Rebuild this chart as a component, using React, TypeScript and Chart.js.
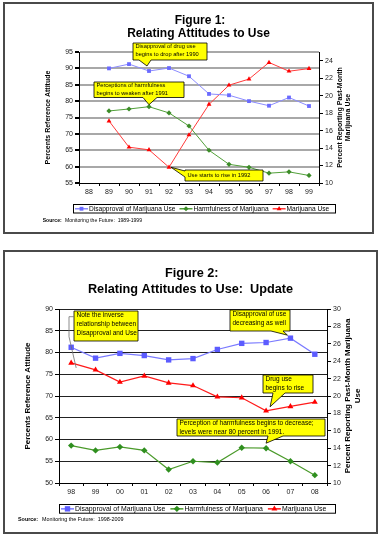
import React, { useEffect, useRef } from 'react';
import { Chart, registerables } from 'chart.js';

Chart.register(...registerables);

const FONT = 'Arial, "Liberation Sans", Helvetica, sans-serif';
Chart.defaults.font.family = FONT;

const seriesNames = ['Disapproval of Marijuana Use', 'Harmfulness of Marijuana', 'Marijuana Use'];

// ---------- Figure 1 data ----------
const fig1Years = ['88', '89', '90', '91', '92', '93', '94', '95', '96', '97', '98', '99'];
const fig1Disapproval = [null, 90.0, 91.3, 89.2, 90.1, 87.6, 82.2, 81.8, 80.0, 78.6, 81.1, 78.5];
const fig1Harmfulness = [null, 77.0, 77.6, 78.3, 76.4, 72.4, 65.0, 60.7, 59.8, 58.0, 58.4, 57.3];
const fig1Use = [null, 17.1, 14.1, 13.8, 11.8, 15.5, 19.0, 21.2, 21.9, 23.8, 22.8, 23.1];
const fig1LeftTicks = [55, 60, 65, 70, 75, 80, 85, 90, 95];
const fig1RightTicks = [10, 12, 14, 16, 18, 20, 22, 24];
const fig1RightMax = 25;

// ---------- Figure 2 data ----------
const fig2Years = ['98', '99', '00', '01', '02', '03', '04', '05', '06', '07', '08'];
const fig2Disapproval = [81.2, 78.7, 79.8, 79.3, 78.3, 78.6, 80.7, 82.1, 82.3, 83.3, 79.6];
const fig2Harmfulness = [58.6, 57.5, 58.3, 57.5, 53.1, 55.0, 54.7, 58.1, 58.0, 55.0, 51.8];
const fig2Use = [23.8, 23.0, 21.6, 22.3, 21.5, 21.2, 19.9, 19.8, 18.3, 18.8, 19.3];
const fig2LeftTicks = [50, 55, 60, 65, 70, 75, 80, 85, 90];
const fig2RightTicks = [10, 12, 14, 16, 18, 20, 22, 24, 26, 28, 30];
const fig2RightMax = 30;

type Style = { color: string; line: string; style: string; r: number; w: number };

const fig1Styles: Style[] = [
  { color: '#6a6aff', line: '#8c8cff', style: 'rect', r: 2.7, w: 1 },
  { color: '#3c8c28', line: '#52a03a', style: 'rectRot', r: 2.6, w: 1 },
  { color: '#ff0000', line: '#ff3b3b', style: 'triangle', r: 2.8, w: 1 },
];
const fig2Styles: Style[] = [
  { color: '#5c5cff', line: '#7a7aff', style: 'rect', r: 3.8, w: 1.2 },
  { color: '#2f8f1f', line: '#4a9a2a', style: 'rectRot', r: 3.2, w: 1.2 },
  { color: '#ff0000', line: '#ff1a1a', style: 'triangle', r: 3.4, w: 1.2 },
];

function drawMarker(ctx: CanvasRenderingContext2D, st: Style, x: number, y: number) {
  const r = st.r;
  ctx.fillStyle = st.color;
  ctx.beginPath();
  if (st.style === 'rect') {
    const s = r * Math.SQRT1_2;
    ctx.rect(x - s, y - s, 2 * s, 2 * s);
  } else if (st.style === 'rectRot') {
    ctx.moveTo(x, y - r);
    ctx.lineTo(x + r, y);
    ctx.lineTo(x, y + r);
    ctx.lineTo(x - r, y);
    ctx.closePath();
  } else {
    ctx.moveTo(x, y - r);
    ctx.lineTo(x + r * 0.866, y + r * 0.5);
    ctx.lineTo(x - r * 0.866, y + r * 0.5);
    ctx.closePath();
  }
  ctx.fill();
}

type Callout = {
  x: number; y: number; w: number; h: number;
  lines: string[]; font: number; lh: number;
  ptr: any;
};

type Spec = {
  top: number; height: number;
  labels: string[];
  series: (number | null)[][];
  styles: Style[];
  plot: { left: number; right: number; top: number; bottom: number };
  leftTicks: number[]; rightTicks: number[]; rightMax: number;
  gridColor: string; gridWidth: number;
  tickFont: number;
  frame: { x: number; y: number; w: number; h: number };
  titles: { text: string; x: number; y: number; size: number }[];
  yTitle: { lines: string[]; x: number; size: number; lh: number };
  y1Title: { lines: string[]; x: number; size: number; lh: number };
  legend: { x: number; y: number; w: number; h: number; size: number; gap: number; marker: number };
  source: { x: number; y: number; size: number; textX: number; text: string };
  callouts: Callout[];
};

function makeDecor(s: Spec) {
  return {
    id: 'figDecor',
    beforeDraw(chart: any) {
      const ctx: CanvasRenderingContext2D = chart.ctx;
      ctx.save();
      ctx.fillStyle = '#ffffff';
      ctx.fillRect(0, 0, chart.width, chart.height);
      ctx.strokeStyle = '#4a4a4a';
      ctx.lineWidth = 2;
      ctx.strokeRect(s.frame.x, s.frame.y, s.frame.w, s.frame.h);
      ctx.restore();
    },
    afterDraw(chart: any) {
      const ctx: CanvasRenderingContext2D = chart.ctx;
      const area = chart.chartArea;
      const cy = (area.top + area.bottom) / 2;
      ctx.save();
      // titles
      ctx.fillStyle = '#000';
      ctx.textAlign = 'center';
      ctx.textBaseline = 'middle';
      s.titles.forEach((t) => {
        ctx.font = `bold ${t.size}px ${FONT}`;
        ctx.fillText(t.text, t.x, t.y);
      });
      // axis titles
      const axisTitle = (t: { lines: string[]; x: number; size: number; lh: number }) => {
        ctx.save();
        ctx.font = `bold ${t.size}px ${FONT}`;
        ctx.translate(t.x, cy);
        ctx.rotate(-Math.PI / 2);
        t.lines.forEach((ln, k) => ctx.fillText(ln, 0, k * t.lh));
        ctx.restore();
      };
      axisTitle(s.yTitle);
      axisTitle(s.y1Title);

      // legend
      const L = s.legend;
      ctx.fillStyle = '#fff';
      ctx.fillRect(L.x, L.y, L.w, L.h);
      ctx.strokeStyle = '#000';
      ctx.lineWidth = 1;
      ctx.strokeRect(L.x + 0.5, L.y + 0.5, L.w, L.h);
      ctx.font = `${L.size}px ${FONT}`;
      ctx.textAlign = 'left';
      let lx = L.x + 2;
      const ly = L.y + L.h / 2 + 0.5;
      seriesNames.forEach((name, k) => {
        const st = s.styles[k];
        ctx.strokeStyle = st.line;
        ctx.lineWidth = 1.5;
        ctx.beginPath();
        ctx.moveTo(lx, ly);
        ctx.lineTo(lx + L.marker, ly);
        ctx.stroke();
        drawMarker(ctx, st, lx + L.marker / 2, ly);
        ctx.fillStyle = '#000';
        ctx.fillText(name, lx + L.marker + 1, ly);
        lx += L.marker + 1 + ctx.measureText(name).width + L.gap;
      });

      // source
      const S = s.source;
      ctx.font = `bold ${S.size}px ${FONT}`;
      ctx.fillText('Source:', S.x, S.y);
      ctx.font = `${S.size}px ${FONT}`;
      ctx.fillText(S.text, S.textX, S.y);

      // callouts
      s.callouts.forEach((c) => {
        const p = c.ptr;
        const pt = chart.getDatasetMeta(p.ds).data[p.i];
        const tx = pt.x + p.dx;
        const ty = pt.y + p.dy;
        const x0 = c.x, y0 = c.y, x1 = c.x + c.w, y1 = c.y + c.h;
        ctx.beginPath();
        if (p.edge === 'bottom') {
          ctx.moveTo(x0, y0);
          ctx.lineTo(x1, y0);
          ctx.lineTo(x1, y1);
          ctx.lineTo(p.b, y1);
          ctx.lineTo(tx, ty);
          ctx.lineTo(p.a, y1);
          ctx.lineTo(x0, y1);
          ctx.closePath();
        } else if (p.edge === 'left') {
          ctx.moveTo(x0, y0);
          ctx.lineTo(x1, y0);
          ctx.lineTo(x1, y1);
          ctx.lineTo(x0, y1);
          ctx.lineTo(x0, p.b);
          ctx.lineTo(tx, ty);
          ctx.lineTo(x0, p.a);
          ctx.closePath();
        } else {
          ctx.rect(x0, y0, c.w, c.h);
        }
        ctx.fillStyle = '#ffff00';
        ctx.fill();
        ctx.strokeStyle = '#000';
        ctx.lineWidth = 0.8;
        ctx.stroke();
        if (p.edge === 'line') {
          ctx.strokeStyle = '#707070';
          ctx.lineWidth = 0.8;
          ctx.beginPath();
          p.pts.forEach((q: number[], k: number) => (k === 0 ? ctx.moveTo(q[0], q[1]) : ctx.lineTo(q[0], q[1])));
          ctx.lineTo(tx, ty);
          ctx.stroke();
        }
        ctx.fillStyle = '#000';
        ctx.font = `${c.font}px ${FONT}`;
        ctx.textAlign = 'left';
        ctx.textBaseline = 'middle';
        c.lines.forEach((ln, k) => ctx.fillText(ln, x0 + 2.5, y0 + c.lh * (k + 0.5)));
      });
      ctx.restore();
    },
  };
}

function buildConfig(s: Spec): any {
  const datasets = s.series.map((data, k) => {
    const st = s.styles[k];
    return {
      label: seriesNames[k],
      data,
      yAxisID: k === 2 ? 'y1' : 'y',
      borderColor: st.line,
      borderWidth: st.w,
      backgroundColor: st.color,
      pointBackgroundColor: st.color,
      pointBorderColor: st.color,
      pointBorderWidth: 0,
      pointStyle: st.style,
      pointRadius: st.r,
      tension: 0,
      fill: false,
    };
  });
  const leftMin = s.leftTicks[0];
  const leftMax = s.leftTicks[s.leftTicks.length - 1];
  const tickFont = { size: s.tickFont, family: FONT };
  return {
    type: 'line',
    data: { labels: s.labels, datasets },
    options: {
      responsive: false,
      animation: false,
      devicePixelRatio: 1,
      events: [],
      layout: { padding: { top: s.plot.top, left: 0, right: 0, bottom: 0 } },
      plugins: { legend: { display: false }, title: { display: false }, tooltip: { enabled: false } },
      scales: {
        x: {
          type: 'category',
          offset: true,
          grid: { offset: true, drawOnChartArea: false, drawTicks: true, tickLength: 3, tickColor: '#000', color: '#000' },
          border: { color: '#000', width: 1 },
          ticks: { font: tickFont, color: '#222', padding: 2, maxRotation: 0, autoSkip: false },
          afterFit: (sc: any) => { sc.height = s.height - s.plot.bottom; },
        },
        y: {
          type: 'linear',
          position: 'left',
          min: leftMin,
          max: leftMax,
          afterBuildTicks: (sc: any) => { sc.ticks = s.leftTicks.map((v) => ({ value: v })); },
          ticks: { font: tickFont, color: '#222', padding: 2 },
          grid: {
            color: (c: any) => (c.tick && c.tick.value === leftMin ? 'rgba(0,0,0,0)' : s.gridColor),
            lineWidth: s.gridWidth,
            tickColor: '#000',
            tickLength: 4,
            drawTicks: true,
          },
          border: { color: '#000', width: 1 },
          afterFit: (sc: any) => { sc.width = s.plot.left; },
        },
        y1: {
          type: 'linear',
          position: 'right',
          min: s.rightTicks[0],
          max: s.rightMax,
          afterBuildTicks: (sc: any) => { sc.ticks = s.rightTicks.map((v) => ({ value: v })); },
          ticks: { font: tickFont, color: '#222', padding: 2 },
          grid: { drawOnChartArea: false, tickColor: '#000', tickLength: 4, drawTicks: true },
          border: { color: '#000', width: 1 },
          afterFit: (sc: any) => { sc.width = 380 - s.plot.right; },
        },
      },
    },
    plugins: [makeDecor(s)],
  };
}

const spec1: Spec = {
  top: 0,
  height: 242,
  labels: fig1Years,
  series: [fig1Disapproval, fig1Harmfulness, fig1Use],
  styles: fig1Styles,
  plot: { left: 79, right: 319, top: 52, bottom: 183 },
  leftTicks: fig1LeftTicks,
  rightTicks: fig1RightTicks,
  rightMax: fig1RightMax,
  gridColor: '#a8a8a8',
  gridWidth: 2,
  tickFont: 7,
  frame: { x: 4, y: 3, w: 369, h: 230 },
  titles: [
    { text: 'Figure 1:', x: 200, y: 21, size: 12 },
    { text: 'Relating Attitudes to Use', x: 198.5, y: 34, size: 12 },
  ],
  yTitle: { lines: ['Percents Reference Attitude'], x: 48, size: 7, lh: 8 },
  y1Title: { lines: ['Percent Reporting Past-Month', 'Marijuana Use'], x: 340, size: 7, lh: 8 },
  legend: { x: 73, y: 204, w: 262, h: 8.5, size: 6.6, gap: 4, marker: 13 },
  source: { x: 42.7, y: 221, size: 5.1, textX: 65, text: 'Monitoring the Future:  1989-1999' },
  callouts: [
    { x: 133, y: 43, w: 74, h: 17, lines: ['Disapproval of drug use', 'begins to drop after 1990'], font: 5.7, lh: 7.7,
      ptr: { edge: 'bottom', a: 139, b: 151, ds: 0, i: 3, dx: -2, dy: -5 } },
    { x: 94, y: 82, w: 90, h: 15.5, lines: ['Perceptions of harmfulness', 'begins to weaken after 1991'], font: 5.7, lh: 7.7,
      ptr: { edge: 'bottom', a: 143, b: 157, ds: 1, i: 3, dx: 0, dy: -2 } },
    { x: 185, y: 170, w: 78, h: 11, lines: ['Use starts to rise in 1992'], font: 5.7, lh: 11,
      ptr: { edge: 'left', a: 171, b: 177, ds: 2, i: 4, dx: 2, dy: 0 } },
  ],
};

const spec2: Spec = {
  top: 242,
  height: 295,
  labels: fig2Years,
  series: [fig2Disapproval, fig2Harmfulness, fig2Use],
  styles: fig2Styles,
  plot: { left: 59, right: 327, top: 67, bottom: 241 },
  leftTicks: fig2LeftTicks,
  rightTicks: fig2RightTicks,
  rightMax: fig2RightMax,
  gridColor: '#222',
  gridWidth: 1,
  tickFont: 7,
  frame: { x: 4, y: 9, w: 373, h: 282 },
  titles: [
    { text: 'Figure 2:', x: 191.7, y: 31, size: 12.7 },
    { text: 'Relating Attitudes to Use:  Update', x: 190.5, y: 47, size: 12.7 },
  ],
  yTitle: { lines: ['Percents Reference Attitude'], x: 28, size: 8, lh: 10 },
  y1Title: { lines: ['Percent Reporting Past-Month Marijuana', 'Use'], x: 348, size: 8, lh: 10 },
  legend: { x: 59, y: 262, w: 276, h: 8.7, size: 6.9, gap: 5, marker: 13 },
  source: { x: 18, y: 278, size: 5.4, textX: 42, text: 'Monitoring the Future:  1998-2009' },
  callouts: [
    { x: 74, y: 69, w: 64, h: 30, lines: ['Note the inverse', 'relationship between', 'Disapproval and Use'], font: 6.5, lh: 9,
      ptr: { edge: 'line', pts: [[74, 74.7], [69, 74.7], [69, 94.7]], ds: 2, i: 0, dx: 5, dy: 5 } },
    { x: 230, y: 68, w: 60, h: 21, lines: ['Disapproval of use', 'decreasing as well'], font: 6.5, lh: 9,
      ptr: { edge: 'bottom', a: 271, b: 283, ds: 0, i: 9, dx: -3, dy: -3 } },
    { x: 263, y: 133, w: 50, h: 18, lines: ['Drug use', 'begins to rise'], font: 6.5, lh: 9,
      ptr: { edge: 'bottom', a: 273, b: 285, ds: 2, i: 8, dx: 4, dy: -4 } },
    { x: 177, y: 177, w: 148, h: 17, lines: ['Perception of harmfulness begins to decrease;', 'levels were near 80 percent in 1991.'], font: 6.5, lh: 9,
      ptr: { edge: 'bottom', a: 268, b: 283, ds: 1, i: 8, dx: 0, dy: -5 } },
  ],
};

function Figure({ spec }: { spec: Spec }) {
  const ref = useRef<HTMLCanvasElement>(null);
  useEffect(() => {
    const chart = new Chart(ref.current as HTMLCanvasElement, buildConfig(spec));
    return () => chart.destroy();
  }, [spec]);
  return (
    <canvas
      ref={ref}
      width={380}
      height={spec.height}
      style={{ position: 'absolute', left: 0, top: spec.top, width: 380, height: spec.height, display: 'block' }}
    />
  );
}

export default function App() {
  return (
    <div style={{ position: 'fixed', left: 0, top: 0, width: 380, height: 537, background: '#fff', overflow: 'hidden' }}>
      <Figure spec={spec1} />
      <Figure spec={spec2} />
    </div>
  );
}
